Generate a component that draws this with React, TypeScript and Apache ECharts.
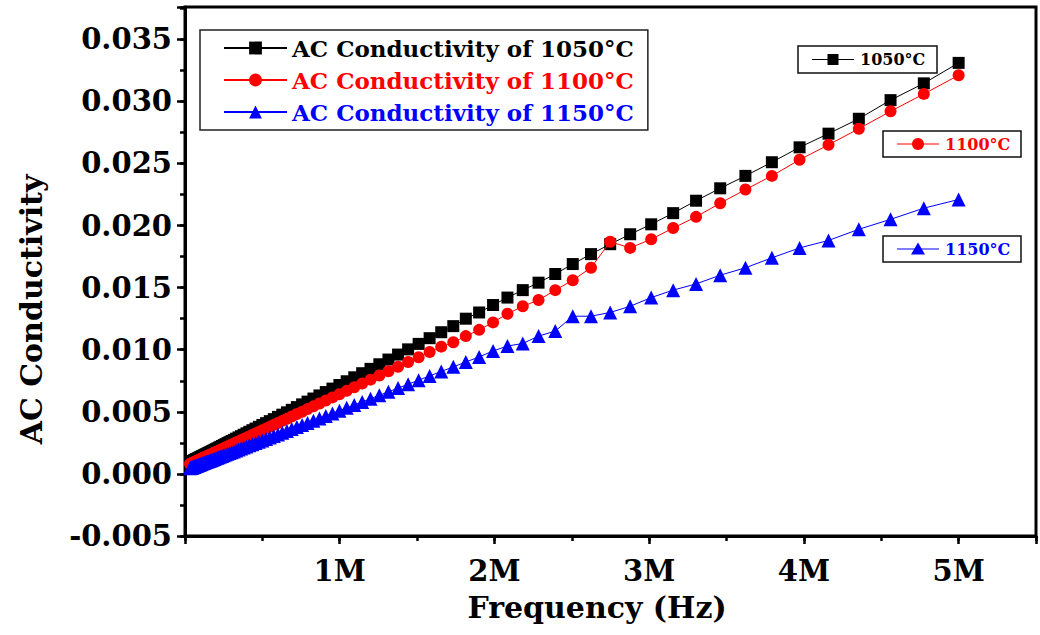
import React, { useEffect, useRef } from "react";
import * as echarts from "echarts";

// Frequency sweep (MHz), high to low
const FREQ_MHZ = [
  5.0, 4.775, 4.56, 4.355, 4.159, 3.972, 3.793, 3.622, 3.459, 3.303,
  3.155, 3.013, 2.877, 2.748, 2.624, 2.506, 2.393, 2.285, 2.183, 2.084,
  1.991, 1.901, 1.815, 1.734, 1.656, 1.581, 1.51, 1.442, 1.377, 1.315,
  1.256, 1.199, 1.145, 1.094, 1.045, 0.998, 0.953, 0.91, 0.869, 0.83,
  0.792, 0.757, 0.723, 0.69, 0.659, 0.629, 0.601, 0.574, 0.548, 0.524,
  0.5, 0.4775, 0.456, 0.4355, 0.4159, 0.3972, 0.3793, 0.3622, 0.3459, 0.3303,
  0.3155, 0.3013, 0.2877, 0.2748, 0.2624, 0.2506, 0.2393, 0.2285, 0.2183, 0.2084,
  0.1991, 0.1901, 0.1815, 0.1734, 0.1656, 0.1581, 0.151, 0.1442, 0.1377, 0.1315,
  0.1256, 0.1199, 0.1145, 0.1094, 0.1045, 0.0998, 0.0953, 0.091, 0.0869, 0.083,
  0.0792, 0.0757, 0.0723, 0.069, 0.0659, 0.0629, 0.0601, 0.0574, 0.0548, 0.0524,
  0.05, 0.0478, 0.0456, 0.0436, 0.0416, 0.0397, 0.0379, 0.0362, 0.0346, 0.033,
];

const SIGMA_1050 = [
  0.0331, 0.03145, 0.0301, 0.0286, 0.0274, 0.0263, 0.0251, 0.024, 0.023, 0.022,
  0.021, 0.0201, 0.0193, 0.0185, 0.0177, 0.0169, 0.0161, 0.0154, 0.0148, 0.0142,
  0.0136, 0.013, 0.0125, 0.0119, 0.01141, 0.01093, 0.01047, 0.01003, 0.00961, 0.00921,
  0.00883, 0.00846, 0.00811, 0.00778, 0.00746, 0.00716, 0.00687, 0.00659, 0.00632, 0.00607,
  0.00582, 0.0056, 0.00538, 0.00516, 0.00496, 0.00477, 0.00459, 0.00441, 0.00425, 0.00409,
  0.00394, 0.00379, 0.00365, 0.00352, 0.00339, 0.00327, 0.00315, 0.00304, 0.00294, 0.00284,
  0.00274, 0.00265, 0.00256, 0.00248, 0.0024, 0.00232, 0.00225, 0.00218, 0.00211, 0.00205,
  0.00199, 0.00193, 0.00187, 0.00182, 0.00177, 0.00172, 0.00168, 0.00163, 0.00159, 0.00155,
  0.00151, 0.00148, 0.00144, 0.00141, 0.00138, 0.00135, 0.00132, 0.00129, 0.00126, 0.00124,
  0.00121, 0.00119, 0.00117, 0.00115, 0.00113, 0.00111, 0.00109, 0.00107, 0.00105, 0.00104,
  0.00102, 0.00101, 0.001, 0.00098, 0.00097, 0.00096, 0.00095, 0.00093, 0.00092, 0.00091,
];

const SIGMA_1100 = [
  0.0321, 0.0306, 0.0292, 0.0278, 0.0265, 0.0253, 0.024, 0.0229, 0.0218, 0.0207,
  0.0198, 0.0189, 0.0182, 0.0187, 0.0166, 0.0156, 0.0148, 0.014, 0.0135, 0.0129,
  0.0122, 0.0116, 0.0111, 0.0106, 0.01025, 0.00982, 0.0094, 0.00901, 0.00863, 0.00827,
  0.00792, 0.00759, 0.00728, 0.00698, 0.00669, 0.00642, 0.00616, 0.00591, 0.00567, 0.00544,
  0.00522, 0.00501, 0.00482, 0.00462, 0.00444, 0.00427, 0.0041, 0.00395, 0.00379, 0.00365,
  0.00352, 0.00338, 0.00326, 0.00314, 0.00302, 0.00292, 0.00281, 0.00271, 0.00262, 0.00253,
  0.00244, 0.00236, 0.00228, 0.0022, 0.00213, 0.00206, 0.002, 0.00193, 0.00187, 0.00181,
  0.00176, 0.00171, 0.00166, 0.00161, 0.00157, 0.00152, 0.00148, 0.00144, 0.0014, 0.00137,
  0.00133, 0.0013, 0.00127, 0.00124, 0.00121, 0.00118, 0.00116, 0.00113, 0.00111, 0.00108,
  0.00106, 0.00104, 0.00102, 0.001, 0.00098, 0.00097, 0.00095, 0.00093, 0.00092, 0.00091,
  0.00089, 0.00088, 0.00087, 0.00085, 0.00084, 0.00083, 0.00082, 0.00081, 0.0008, 0.00079,
];

const SIGMA_1150 = [
  0.0221, 0.0214, 0.0205, 0.0197, 0.0188, 0.0182, 0.0174, 0.0166, 0.016, 0.0153,
  0.0148, 0.0142, 0.0135, 0.013, 0.0127, 0.0127, 0.0115, 0.0111, 0.0105, 0.0103,
  0.0099, 0.00942, 0.00901, 0.00862, 0.00825, 0.00789, 0.00755, 0.00722, 0.00691, 0.00661,
  0.00633, 0.00606, 0.0058, 0.00555, 0.00532, 0.00509, 0.00487, 0.00467, 0.00447, 0.00428,
  0.0041, 0.00393, 0.00377, 0.00361, 0.00346, 0.00332, 0.00318, 0.00306, 0.00293, 0.00282,
  0.0027, 0.00259, 0.00249, 0.00239, 0.0023, 0.00221, 0.00212, 0.00204, 0.00196, 0.00189,
  0.00181, 0.00175, 0.00168, 0.00162, 0.00156, 0.0015, 0.00145, 0.0014, 0.00135, 0.0013,
  0.00126, 0.00121, 0.00117, 0.00113, 0.00109, 0.00106, 0.00102, 0.00099, 0.00096, 0.00093,
  0.0009, 0.00088, 0.00085, 0.00083, 0.0008, 0.00078, 0.00076, 0.00074, 0.00072, 0.0007,
  0.00068, 0.00066, 0.00065, 0.00063, 0.00062, 0.0006, 0.00059, 0.00058, 0.00056, 0.00055,
  0.00054, 0.00053, 0.00052, 0.00051, 0.0005, 0.00049, 0.00048, 0.00047, 0.00047, 0.00046,
];

const SERIES_NAMES = [
  "AC Conductivity of 1050°C",
  "AC Conductivity of 1100°C",
  "AC Conductivity of 1150°C",
];
const SHORT_LABELS = ["1050°C", "1100°C", "1150°C"];
const SERIES_COLORS = ["#000000", "#ff0000", "#0000ff"];
const X_TICK_LABELS = ["", "1M", "2M", "3M", "4M", "5M"];
const Y_TICK_LABELS = ["-0.005", "0.000", "0.005", "0.010", "0.015", "0.020", "0.025", "0.030", "0.035"];

const FONT = "DejaVu Serif";

export default function App() {
  const ref = useRef<HTMLDivElement>(null);

  useEffect(() => {
    if (!ref.current) return;
    const chart = echarts.init(ref.current, undefined, { renderer: "svg" });

    const mk = (vals: number[]) => FREQ_MHZ.map((f, i) => [f, vals[i]]);
    const symbols = ["rect", "circle", "triangle"];
    const sizes = [12, 12, 14];
    const datas = [SIGMA_1050, SIGMA_1100, SIGMA_1150];

    const axisLabelStyle = {
      fontFamily: FONT,
      fontWeight: "bold" as const,
      fontSize: 29,
      color: "#000",
    };

    const smallBox = (i: number, x: number, y: number, w: number, h: number) => {
      const cy = y + h / 2;
      const lx0 = x + 14;
      const lx1 = x + 56;
      const mx = (lx0 + lx1) / 2;
      const c = SERIES_COLORS[i];
      const marker =
        i === 0
          ? { type: "rect", shape: { x: mx - 5.5, y: cy - 5.5, width: 11, height: 11 }, style: { fill: c } }
          : i === 1
          ? { type: "circle", shape: { cx: mx, cy, r: 6 }, style: { fill: c } }
          : { type: "polygon", shape: { points: [[mx, cy - 6.5], [mx - 7, cy + 5.5], [mx + 7, cy + 5.5]] }, style: { fill: c } };
      return [
        { type: "rect", shape: { x, y, width: w, height: h }, style: { fill: "#fff", stroke: "#111", lineWidth: 1.5 } },
        { type: "line", shape: { x1: lx0, y1: cy, x2: lx1, y2: cy }, style: { stroke: c, lineWidth: 1 } },
        marker,
        {
          type: "text",
          x: lx1 + 6,
          y: cy,
          style: {
            text: SHORT_LABELS[i],
            fill: c,
            fontFamily: FONT,
            fontWeight: "bold",
            fontSize: 16,
            align: "left",
            verticalAlign: "middle",
          },
        },
      ];
    };

    chart.setOption({
      animation: false,
      backgroundColor: "#fff",
      grid: {
        left: 185,
        right: 4,
        top: 7,
        bottom: 99,
        show: true,
        borderColor: "#000",
        borderWidth: 3,
        backgroundColor: "transparent",
      },
      legend: {
        orient: "vertical",
        left: 200,
        top: 30,
        padding: [6, 14, 6, 23],
        itemGap: 8,
        itemWidth: 63,
        itemHeight: 16,
        itemTextGap: 5,
        borderColor: "#222",
        borderWidth: 1.5,
        backgroundColor: "#fff",
        selectedMode: false,
        textStyle: { fontFamily: FONT, fontWeight: "bold", fontSize: 23, lineHeight: 24 },
        data: SERIES_NAMES.map((n, i) => ({ name: n, textStyle: { color: SERIES_COLORS[i] } })),
      },
      xAxis: [
        {
          type: "value",
          min: 0,
          max: 5.5,
          interval: 1,
          position: "bottom",
          axisLine: { show: true, onZero: false, lineStyle: { color: "#000", width: 3 } },
          axisTick: { show: true, inside: false, length: 8, lineStyle: { color: "#000", width: 2.5 } },
          splitLine: { show: false },
          axisLabel: {
            ...axisLabelStyle,
            margin: 20,
            formatter: (v: number) => {
              const r = Math.round(v);
              return Math.abs(v - r) < 1e-6 && r < X_TICK_LABELS.length ? X_TICK_LABELS[r] : "";
            },
          },
          name: "Frequency (Hz)",
          nameLocation: "middle",
          nameGap: 56,
          nameTextStyle: { fontFamily: FONT, fontWeight: "bold", fontSize: 30, color: "#000", padding: [0, 27, 0, 0] },
        },
        {
          type: "value",
          min: 0,
          max: 5.5,
          interval: 0.5,
          position: "bottom",
          axisLine: { show: false, onZero: false },
          axisTick: { show: true, inside: false, length: 5, lineStyle: { color: "#000", width: 2.5 } },
          axisLabel: { show: false },
          splitLine: { show: false },
        },
      ],
      yAxis: [
        {
          type: "value",
          min: -0.005,
          max: 0.0376,
          interval: 0.005,
          position: "left",
          axisLine: { show: true, onZero: false, lineStyle: { color: "#000", width: 3 } },
          axisTick: { show: true, inside: false, length: 8, lineStyle: { color: "#000", width: 2.5 } },
          splitLine: { show: false },
          axisLabel: {
            ...axisLabelStyle,
            margin: 13,
            formatter: (v: number) => {
              const idx = Math.round((v + 0.005) / 0.005);
              return Math.abs(v - (idx * 0.005 - 0.005)) < 1e-7 && idx < Y_TICK_LABELS.length ? Y_TICK_LABELS[idx] : "";
            },
          },
          name: "AC Conductivity",
          nameLocation: "middle",
          nameGap: 139,
          nameRotate: 90,
          nameTextStyle: { fontFamily: FONT, fontWeight: "bold", fontSize: 30, color: "#000", padding: [0, 76, 0, 0] },
        },
        {
          type: "value",
          min: -0.005,
          max: 0.0376,
          interval: 0.0025,
          position: "left",
          axisLine: { show: false, onZero: false },
          axisTick: { show: true, inside: false, length: 5, lineStyle: { color: "#000", width: 2.5 } },
          axisLabel: { show: false },
          splitLine: { show: false },
        },
      ],
      series: datas.map((d, i) => ({
        name: SERIES_NAMES[i],
        type: "line",
        xAxisIndex: 0,
        yAxisIndex: 0,
        data: mk(d),
        symbol: symbols[i],
        symbolSize: sizes[i],
        itemStyle: { color: SERIES_COLORS[i] },
        lineStyle: { color: SERIES_COLORS[i], width: 1 },
        z: 2 + i,
      })),
      graphic: [
        ...smallBox(0, 798, 46, 139, 27),
        ...smallBox(1, 883, 131, 138, 26),
        ...smallBox(2, 883, 236, 138, 26),
      ],
    });

    return () => chart.dispose();
  }, []);

  return (
    <div
      ref={ref}
      style={{ position: "fixed", left: 0, top: 0, width: 1040, height: 635 }}
    />
  );
}
